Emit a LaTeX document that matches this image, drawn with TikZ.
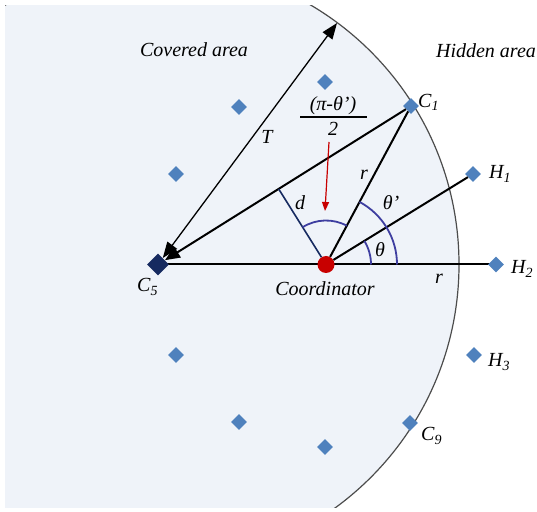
\documentclass[tikz,border=0pt]{standalone}
\usepackage{fontspec}
\setmainfont{Liberation Serif}
\usetikzlibrary{shapes.geometric,arrows.meta,calc,backgrounds}
\definecolor{areafill}{RGB}{239,243,249}
\definecolor{nodeblue}{RGB}{79,129,189}
\definecolor{navy}{RGB}{22,42,96}
\definecolor{arcblue}{RGB}{62,62,160}
\definecolor{coordred}{RGB}{200,0,0}
\tikzset{
  sensor/.style={diamond, fill=nodeblue, inner sep=0pt, minimum size=16pt},
  link/.style={line width=2pt, black},
  anglearc/.style={line width=1.8pt, arcblue},
  lbl/.style={inner sep=0pt, anchor=west}
}

\begin{document}
\begin{tikzpicture}[x=1pt, y=1pt, font=\fontsize{20}{23}\selectfont\itshape]
  \useasboundingbox (0,0) rectangle (537,511);

  %% Nodes
  \node[diamond, fill=navy, inner sep=0pt, minimum size=22pt] (C5) at (158,246.5) {};
  \node[circle, fill=coordred, inner sep=0pt, minimum size=17pt] (coord) at (326,246.5) {};
  \node[sensor] (C1) at (411,405) {};
  \node[sensor] (H1) at (473,337) {};
  \node[sensor] (H2) at (496,246.5) {};
  \node[sensor] (H3) at (474,156) {};
  \node[sensor] (C9) at (410,88) {};
  \node[sensor] (u1) at (239,404) {};
  \node[sensor] (u2) at (325,429) {};
  \node[sensor] (u3) at (176,337) {};
  \node[sensor] (l1) at (239,89) {};
  \node[sensor] (l2) at (325,64) {};
  \node[sensor] (l3) at (176,156) {};

  %% Covered area (circle of radius T round C5)
  \begin{scope}[on background layer]
    \begin{scope}
      \clip (5,4) rectangle (537,505);
      \fill[areafill, draw=black!70, line width=1.2pt] (C5.center) circle [radius=301pt];
    \end{scope}
    \draw[link] (C5.center) -- (H2.center);
  \end{scope}

  %% Links from the coordinator
  \draw[link] (coord) -- (C1);
  \draw[link] (coord) -- (H1);
  \draw[link, -{Triangle[length=15pt, width=12pt]}] (C1) -- (C5);

  %% Range T
  \coordinate (Tend) at ($(C5.center)+(53.45:300.6pt)$);
  \draw[line width=1.3pt, {Triangle[length=16pt, width=12pt]}-{Triangle[length=16pt, width=12pt]}] (C5) -- (Tend);

  %% Distance d
  \coordinate (dfoot) at ($(C5.center)!(coord.center)!(C1.center)$);
  \draw[line width=1.6pt, navy] (coord) -- (dfoot);

  %% Angles
  \draw[anglearc] ([shift={(0:45pt)}]coord.center) arc[start angle=0, end angle=31.6, radius=45pt];
  \draw[anglearc] ([shift={(0:71pt)}]coord.center) arc[start angle=0, end angle=61.8, radius=71pt];
  \draw[anglearc] ([shift={(61.8:44pt)}]coord.center) arc[start angle=61.8, end angle=122.1, radius=44pt];

  %% Red pointer to the angle
  \coordinate (ptop) at (329,369);
  \coordinate (ptip) at (325,300);
  \draw[coordred, line width=1.2pt, -{Triangle[length=9pt, width=7pt]}] (ptop) -- (ptip);

  %% Fraction
  \node (fracnum) at (333,405) {(π-θ’)};
  \node (fracden) at (333,382) {2};
  \draw[line width=1.2pt] (300,394) -- (367,394);

  %% Labels
  \node (lblcov) at (194,461) {Covered area};
  \node (lblhid) at (486,460) {Hidden area};
  \node (lblT) at (267,374) {T};
  \node (lblr1) at (364,336) {r};
  \node (lblr2) at (439,232) {r};
  \node (lbld) at (300,308) {d};
  \node (lblthp) at (391,308) {θ’};
  \node (lblth) at (380,261) {θ};
  \node (lblcoord) at (325,222) {Coordinator};
  \node[lbl] (lblC1) at (418,409) {C\textsubscript{1}};
  \node[lbl] (lblH1) at (489,337) {H\textsubscript{1}};
  \node[lbl] (lblH2) at (511,242) {H\textsubscript{2}};
  \node[lbl] (lblH3) at (488,149) {H\textsubscript{3}};
  \node[lbl] (lblC9) at (421,75) {C\textsubscript{9}};
  \node[lbl] (lblC5) at (137,224) {C\textsubscript{5}};
\end{tikzpicture}
\end{document}
